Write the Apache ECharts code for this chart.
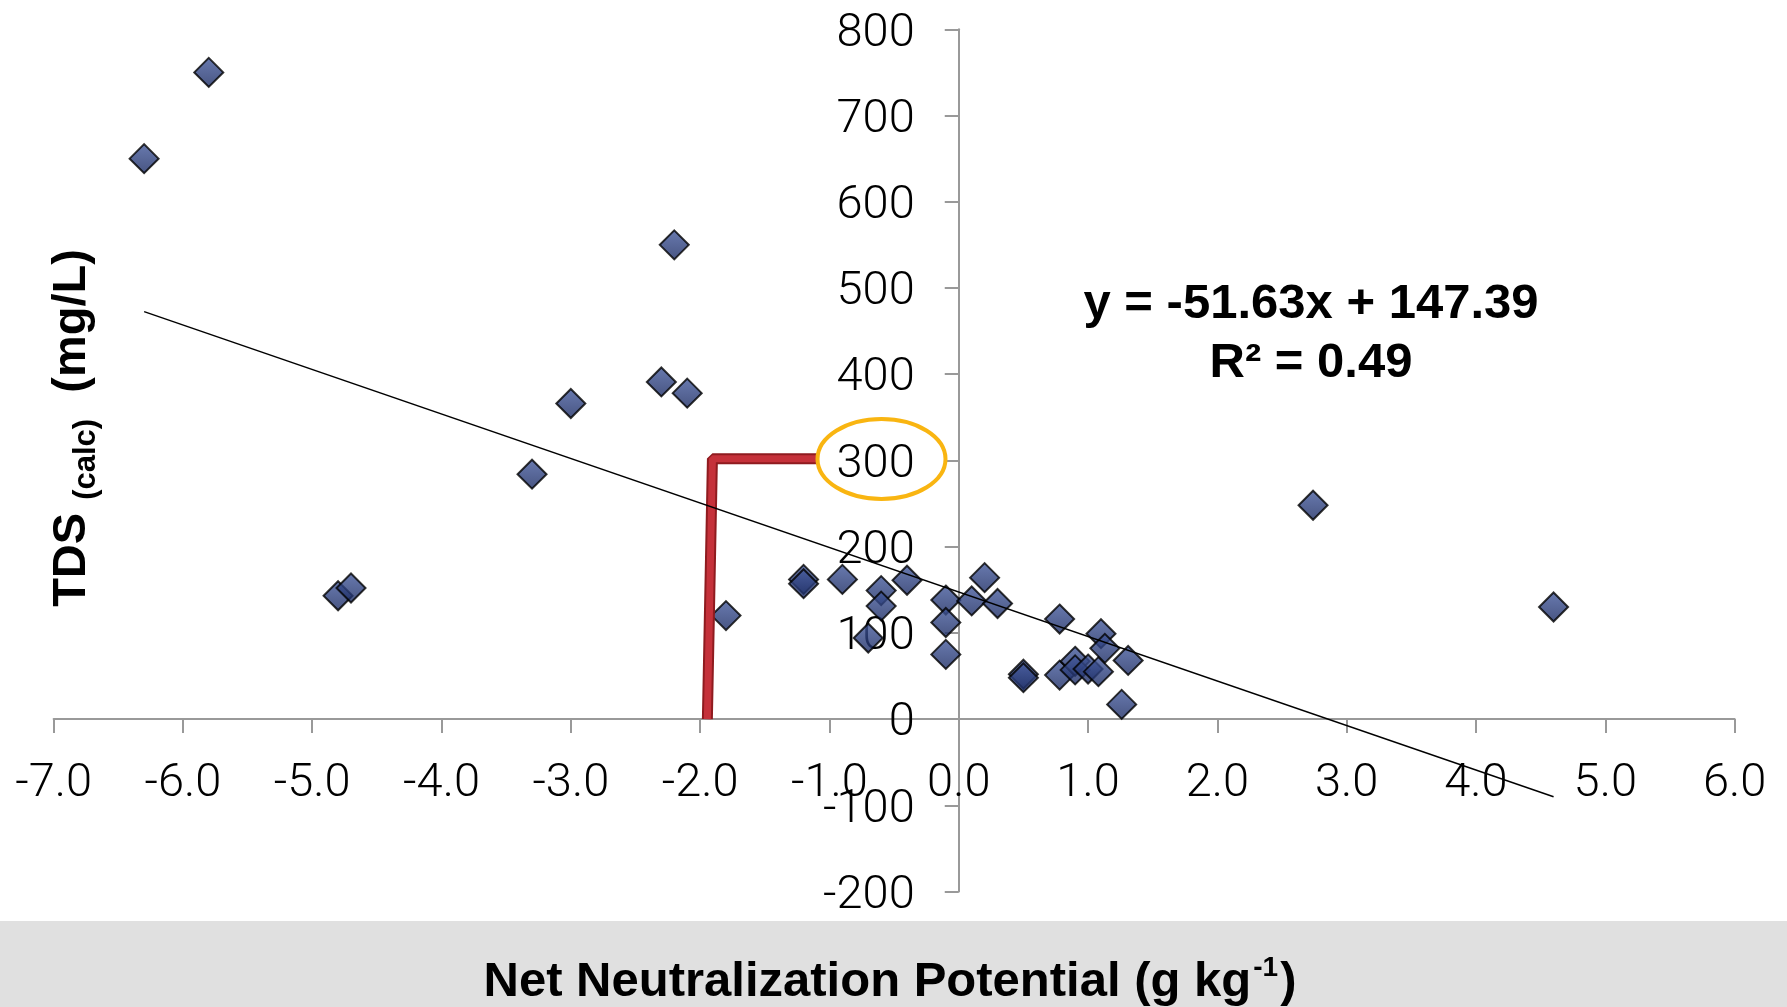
<!DOCTYPE html>
<html>
<head>
<meta charset="utf-8">
<title>TDS vs Net Neutralization Potential</title>
<script src="https://cdn.jsdelivr.net/npm/echarts@6/dist/echarts.min.js"></script>
<style>
  html, body { margin: 0; padding: 0; background: #fff; }
  #chart { width: 1787px; height: 1007px; }
</style>
</head>
<body>
<div id="chart"></div>
<script>
// NNP (g/kg) and TDS calc (mg/L)
var nnp = [-6.3, -5.8, -4.8, -4.7, -3.3, -3.0, -2.3, -2.1, -2.2, -1.8,
           -1.2, -1.2, -0.9, -0.7, -0.6, -0.6, -0.4, -0.1, -0.1, -0.1,
           0.1, 0.2, 0.3, 0.5, 0.5, 0.78, 0.78, 0.9, 0.9, 1.0,
           1.08, 1.1, 1.13, 1.31, 1.26, 2.74, 4.6];
var tds = [650, 750, 143, 152, 284, 366, 391, 378, 550, 120,
           162, 157, 162, 94, 149, 131, 161, 138, 112, 75,
           137, 164, 134, 52, 48, 116, 51, 67, 57, 58,
           55, 99, 82, 68, 17, 248, 130];

// linear trend  y = -51.63x + 147.39, end points
var trendX = [-6.3, 4.6];
var trendY = [472.6, -90.1];

// red pointer line to the 300 label
var pointerX = [-1.944, -1.905, -1.09];
var pointerY = [0, 302, 302];

var xTicks = { min: -7, max: 6, step: 1 };
var yTicks = { min: -200, max: 800, step: 100 };

var W = 1787, H = 1007;
var grid = { left: 53.6, right: 52.4, top: 29.3, bottom: 115.5 };

// axes cross at 0,0 : shift them into the plot with offset (labels go along)
var gridW = W - grid.left - grid.right;
var gridH = H - grid.top - grid.bottom;
var xAxisOffset = -(0 - yTicks.min) / (yTicks.max - yTicks.min) * gridH;
var yAxisOffset = -(0 - xTicks.min) / (xTicks.max - xTicks.min) * gridW;

var chart = echarts.init(document.getElementById('chart'));

function pairs(a, b) {
  var out = [];
  for (var i = 0; i < a.length; i++) out.push([a[i], b[i]]);
  return out;
}

var tickFont = { color: '#000', fontFamily: 'Roboto, "Liberation Sans", sans-serif', fontWeight: 300, fontSize: 47 };
var boldFont = '"Liberation Sans", Arial, sans-serif';

chart.setOption({
  animation: false,
  backgroundColor: '#fff',
  grid: { left: grid.left, right: grid.right, top: grid.top, bottom: grid.bottom, containLabel: false, outerBoundsMode: 'none' },
  xAxis: {
    type: 'value',
    min: xTicks.min, max: xTicks.max, interval: xTicks.step,
    offset: xAxisOffset,
    axisLine: { onZero: false, lineStyle: { color: '#999', width: 2 } },
    axisTick: { show: true, length: 14, lineStyle: { color: '#999', width: 2 } },
    splitLine: { show: false },
    axisLabel: Object.assign({ margin: 42, formatter: function (v) { return v.toFixed(1); } }, tickFont)
  },
  yAxis: {
    type: 'value',
    min: yTicks.min, max: yTicks.max, interval: yTicks.step,
    offset: yAxisOffset,
    axisLine: { show: true, onZero: false, lineStyle: { color: '#999', width: 2 } },
    axisTick: { show: true, length: 14, lineStyle: { color: '#999', width: 2 } },
    splitLine: { show: false },
    // nudge labels a few px down like the original
    axisLabel: Object.assign({ margin: 44, verticalAlign: 'top', lineHeight: 9 }, tickFont)
  },
  series: [
    {
      type: 'scatter',
      data: pairs(nnp, tds),
      symbol: 'diamond',
      symbolSize: 29,
      z: 2,
      itemStyle: {
        color: new echarts.graphic.LinearGradient(0, 0, 0, 1, [
          { offset: 0, color: '#43599c' },
          { offset: 1, color: '#1a2a62' }
        ]),
        borderColor: '#000',
        borderWidth: 2
      }
    },
    {
      type: 'line',
      data: pairs(pointerX, pointerY),
      symbol: 'none',
      z: 3,
      lineStyle: { color: '#8f1b1f', width: 11 }
    },
    {
      type: 'line',
      data: pairs(pointerX, pointerY),
      symbol: 'none',
      z: 3,
      lineStyle: { color: '#c5313a', width: 7 }
    },
    {
      type: 'line',
      data: pairs(trendX, trendY),
      symbol: 'none',
      z: 4,
      lineStyle: { color: '#000', width: 1.5 }
    }
  ],
  graphic: [
    {
      type: 'rect', z: 0,
      shape: { x: 0, y: 921, width: W, height: H - 921 },
      style: { fill: '#e0e0e0' }
    },
    {
      type: 'text', z: 10,
      x: 890, y: 982,
      style: {
        text: '{a|Net Neutralization Potential (g kg}{s|-1}{a|)}',
        align: 'center', verticalAlign: 'middle',
        rich: {
          a: { fontFamily: boldFont, fontWeight: 'bold', fontSize: 49, fill: '#000', lineHeight: 56 },
          s: { fontFamily: boldFont, fontWeight: 'bold', fontSize: 28, fill: '#000', verticalAlign: 'top', lineHeight: 56, padding: [0, 2, 22, 2] }
        }
      }
    },
    {
      type: 'text', z: 10,
      x: 72, y: 428, rotation: Math.PI / 2,
      style: {
        text: '{a|TDS }{s|(calc)}{a|  (mg/L)}',
        align: 'center', verticalAlign: 'middle',
        rich: {
          a: { fontFamily: boldFont, fontWeight: 'bold', fontSize: 47, fill: '#000', lineHeight: 60 },
          s: { fontFamily: boldFont, fontWeight: 'bold', fontSize: 31, fill: '#000', verticalAlign: 'bottom', lineHeight: 60 }
        }
      }
    },
    {
      type: 'text', z: 10,
      x: 1311, y: 304,
      style: {
        text: 'y = -51.63x + 147.39',
        align: 'center', verticalAlign: 'middle',
        font: 'bold 49px ' + boldFont, fill: '#000'
      }
    },
    {
      type: 'text', z: 10,
      x: 1311, y: 363,
      style: {
        text: 'R\u00b2 = 0.49',
        align: 'center', verticalAlign: 'middle',
        font: 'bold 49px ' + boldFont, fill: '#000'
      }
    },
    {
      type: 'ellipse', z: 10,
      shape: { cx: 881.5, cy: 459, rx: 64, ry: 40 },
      style: { fill: 'none', stroke: '#f9b511', lineWidth: 4 }
    }
  ]
});
</script>
</body>
</html>
